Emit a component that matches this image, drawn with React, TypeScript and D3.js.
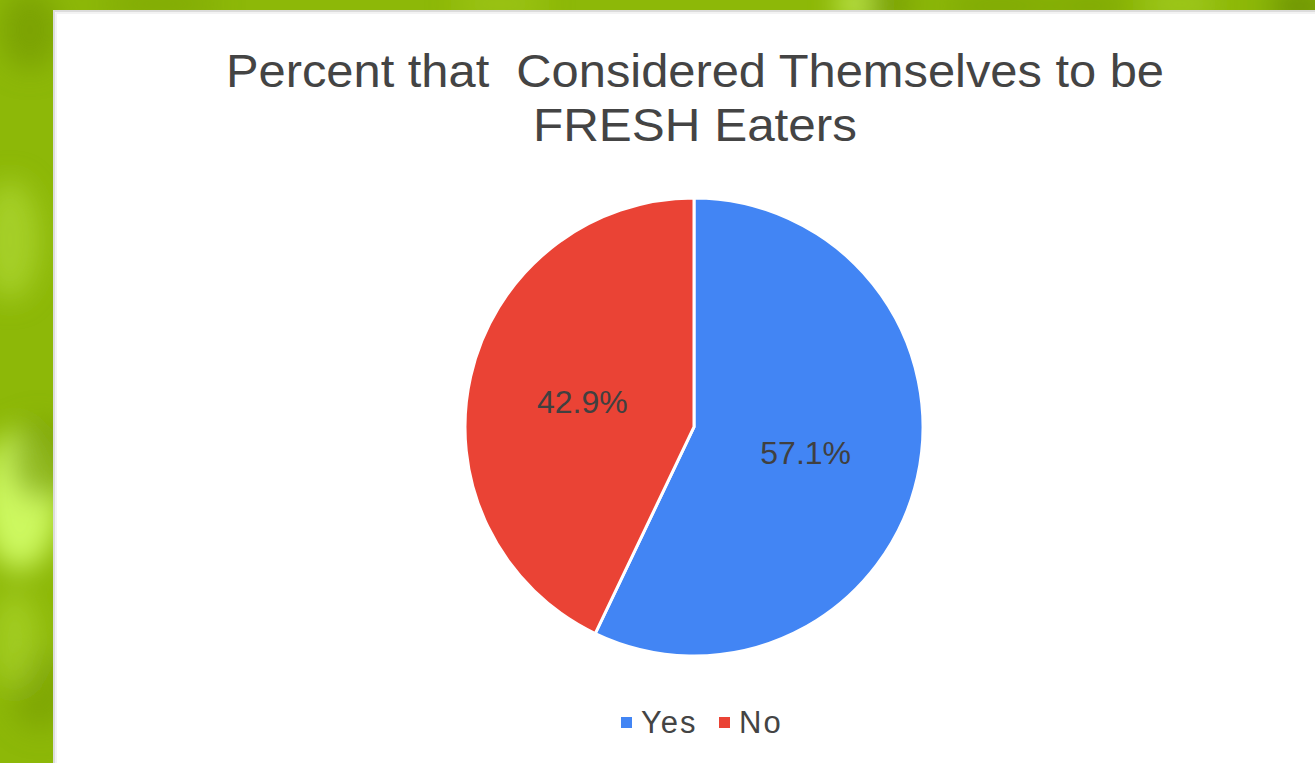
import { useMemo } from "react";
import * as d3 from "d3";

const WIDTH = 1315;
const HEIGHT = 763;

// chart data
const CATEGORIES = ["Yes", "No"];
const PERCENTS = [57.1, 42.9];
const COLORS = ["#4285f4", "#ea4335"];
const TITLE_LINES = ["Percent that  Considered Themselves to be", "FRESH Eaters"];
const TITLE_WIDTHS = [938, 324];

// background texture blobs (decoration only)
const BG_SPOTS = [
  { x: 20, y: 500, rx: 40, ry: 70, c: "#d4ff6a", o: 0.9 },
  { x: 40, y: 460, rx: 30, ry: 40, c: "#6f9500", o: 0.6 },
  { x: 40, y: 690, rx: 30, ry: 40, c: "#6f9500", o: 0.5 },
  { x: 10, y: 240, rx: 30, ry: 60, c: "#b6e03a", o: 0.6 },
  { x: 30, y: 30, rx: 30, ry: 40, c: "#6f9500", o: 0.6 },
  { x: 15, y: 640, rx: 25, ry: 50, c: "#b6e03a", o: 0.5 },
  { x: 855, y: 4, rx: 18, ry: 14, c: "#d8ff70", o: 0.9 },
  { x: 890, y: 4, rx: 25, ry: 14, c: "#6b8e00", o: 0.7 },
  { x: 1000, y: 6, rx: 60, ry: 14, c: "#6f9800", o: 0.5 },
  { x: 1090, y: 6, rx: 40, ry: 14, c: "#6f9800", o: 0.5 },
  { x: 1180, y: 4, rx: 40, ry: 14, c: "#b0d830", o: 0.6 },
  { x: 1300, y: 6, rx: 30, ry: 14, c: "#557800", o: 0.7 },
  { x: 500, y: 4, rx: 50, ry: 12, c: "#b3d828", o: 0.5 },
  { x: 160, y: 4, rx: 60, ry: 12, c: "#6f9800", o: 0.5 },
];

const PANEL = { x: 55, y: 12 };
const CX = 694;
const CY = 427;
const R = 229;

export default function App() {
  const pieData = useMemo(
    () =>
      d3
        .pie<number>()
        .sort(null)
        .value((d) => d)(PERCENTS),
    [],
  );
  const arc = d3.arc<d3.PieArcDatum<number>>().innerRadius(0).outerRadius(R);

  return (
    <svg
      width={WIDTH}
      height={HEIGHT}
      style={{ position: "absolute", left: 0, top: 0, display: "block" }}
      fontFamily="'Liberation Sans', Arial, sans-serif"
    >
      <defs>
        <filter id="blur" x="-100%" y="-100%" width="300%" height="300%">
          <feGaussianBlur stdDeviation="14" />
        </filter>
      </defs>

      {/* green textured background */}
      <rect x={0} y={0} width={WIDTH} height={HEIGHT} fill="#8db808" />
      <g filter="url(#blur)">
        {BG_SPOTS.map((s, i) => (
          <ellipse key={i} cx={s.x} cy={s.y} rx={s.rx} ry={s.ry} fill={s.c} opacity={s.o} />
        ))}
      </g>

      {/* white panel with soft border */}
      <rect
        x={PANEL.x - 1}
        y={PANEL.y - 1}
        width={WIDTH}
        height={HEIGHT}
        fill="#fff"
        stroke="#dcdcdc"
        strokeWidth={2}
      />
      <rect x={PANEL.x + 1} y={PANEL.y + 1} width={WIDTH} height={HEIGHT} fill="none" stroke="#f0f0f0" strokeWidth={1.5} />

      {/* title */}
      <g fill="#444" fontSize={46} textAnchor="middle">
        {TITLE_LINES.map((t, i) => (
          <text
            key={i}
            x={695}
            y={87 + i * 54}
            textLength={TITLE_WIDTHS[i]}
            lengthAdjust="spacingAndGlyphs"
            style={{ whiteSpace: "pre" }}
          >
            {t}
          </text>
        ))}
      </g>

      {/* pie */}
      <g transform={`translate(${CX},${CY})`}>
        {pieData.map((d, i) => (
          <path key={CATEGORIES[i]} d={arc(d) ?? ""} fill={COLORS[i]} stroke="#fff" strokeWidth={3} />
        ))}
        {pieData.map((d, i) => {
          const [x, y] = arc.centroid(d);
          return (
            <text
              key={CATEGORIES[i] + "-lbl"}
              x={x}
              y={y}
              dy="0.35em"
              textAnchor="middle"
              fontSize={32}
              fill="#404040"
            >
              {d3.format(".1f")(d.data)}%
            </text>
          );
        })}
      </g>

      {/* legend */}
      <g fontSize={31} fill="#444">
        {CATEGORIES.map((c, i) => {
          const x0 = i === 0 ? 621 : 719;
          return (
            <g key={c} transform={`translate(${x0},0)`}>
              <rect x={0} y={717} width={11} height={11} fill={COLORS[i]} />
              <text x={20} y={733} letterSpacing={2}>
                {c}
              </text>
            </g>
          );
        })}
      </g>
    </svg>
  );
}
